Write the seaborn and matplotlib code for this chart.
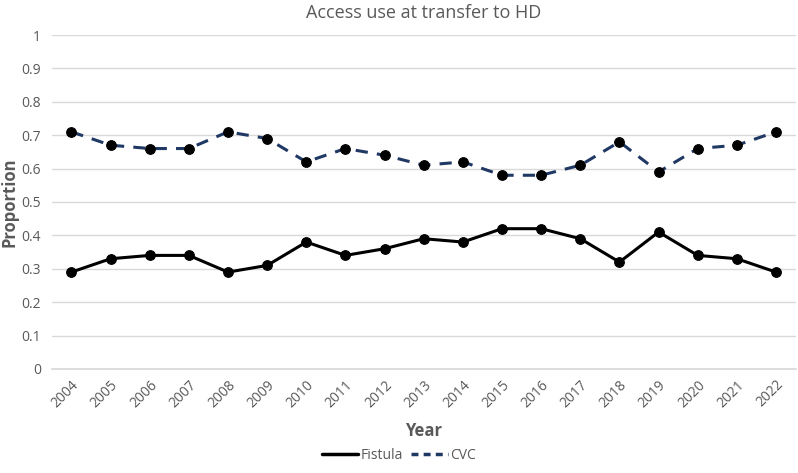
import numpy as np
import pandas as pd
import matplotlib
matplotlib.use('Agg')
from matplotlib import pyplot as plt
from matplotlib.lines import Line2D
import seaborn as sns

years = list(range(2004, 2023))
fistula = [0.29, 0.33, 0.34, 0.34, 0.29, 0.31, 0.38, 0.34, 0.36, 0.39,
           0.38, 0.42, 0.42, 0.39, 0.32, 0.41, 0.34, 0.33, 0.29]
cvc = [0.71, 0.67, 0.66, 0.66, 0.71, 0.69, 0.62, 0.66, 0.64, 0.61,
       0.62, 0.58, 0.58, 0.61, 0.68, 0.59, 0.66, 0.67, 0.71]
y_ticks = [0, 0.1, 0.2, 0.3, 0.4, 0.5, 0.6, 0.7, 0.8, 0.9, 1]
y_tick_labels = ['0', '0.1', '0.2', '0.3', '0.4', '0.5', '0.6', '0.7', '0.8', '0.9', '1']

df = pd.DataFrame({'Year': years, 'Fistula': fistula, 'CVC': cvc})

sns.set_theme(style='white')
plt.rcParams['font.family'] = ['Open Sans', 'DejaVu Sans']

grey = '#595959'
navy = '#203864'

fig = plt.figure(figsize=(7.98, 4.73), dpi=100)
ax = fig.add_axes([0.065, 0.22, 0.932, 0.706])

sns.lineplot(data=df, x='Year', y='Fistula', ax=ax, color='black', linewidth=2.2,
             marker='o', markersize=7, markerfacecolor='black', markeredgecolor='black')
sns.lineplot(data=df, x='Year', y='CVC', ax=ax, color=navy, linewidth=2.2,
             dashes=False, linestyle=(0, (4, 3)),
             marker='o', markersize=7, markerfacecolor='black', markeredgecolor='black')

ax.set_ylim(0, 1)
ax.set_xlim(years[0] - 0.5, years[-1] + 0.5)
ax.set_yticks(y_ticks)
ax.set_yticklabels(y_tick_labels, fontsize=10, color=grey)
ax.set_xticks(years)
ax.set_xticklabels([str(y) for y in years], rotation=45, ha='right',
                   rotation_mode='anchor', fontsize=10, color=grey)
ax.tick_params(axis='both', length=0, pad=6)
ax.tick_params(axis='y', pad=8)
ax.yaxis.grid(True, color='#d9d9d9', linewidth=1)
ax.set_axisbelow(True)
for side in ['left', 'right', 'top']:
    ax.spines[side].set_visible(False)
ax.spines['bottom'].set_color('#d9d9d9')

ax.set_title('Access use at transfer to HD', fontsize=13, color=grey, pad=12)
ax.set_xlabel('Year', fontsize=12, fontweight='bold', color=grey, labelpad=8)
ax.set_ylabel('Proportion', fontsize=12, fontweight='bold', color=grey)
ax.yaxis.set_label_coords(-0.045, 0.5)

handles = [Line2D([], [], color='black', linewidth=2.5),
           Line2D([], [], color=navy, linewidth=2.5, linestyle=(0, (2, 1.5)))]
fig.legend(handles, ['Fistula', 'CVC'], loc='lower center', bbox_to_anchor=(0.5, -0.005),
           ncol=2, frameon=False, fontsize=10, labelcolor=grey,
           handlelength=2.6, columnspacing=0.6, handletextpad=0.2)

fig.savefig('out.png', dpi=100)
